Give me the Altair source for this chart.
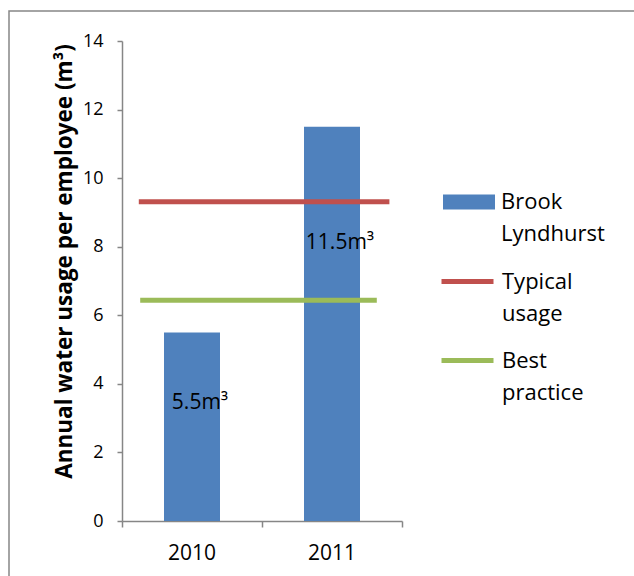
import altair as alt
import pandas as pd

# ---- data ----
years = ["2010", "2011"]
usage = [5.5, 11.5]
bar_labels = ["5.5m³", "11.5m³"]
label_level = [3.45, 8.1]          # where the value labels sit (data units)
bar_series = "Brook Lyndhurst"

ref_names = ["Typical usage", "Best practice"]
ref_values = [9.31, 6.44]
ref_start = [0.12, 0.13]           # along the category axis (0..2)
ref_end = [1.91, 1.82]

y_ticks = [0, 2, 4, 6, 8, 10, 12, 14]

BLUE = "#4F81BD"
RED = "#C0504D"
GREEN = "#9BBB59"
GRAY = "#868686"
FONT = "Open Sans"

bars_df = pd.DataFrame({"year": years, "usage": usage, "label": bar_labels,
                        "label_y": label_level, "series": [bar_series] * len(years)})
ref_df = pd.DataFrame({"series": ref_names, "value": ref_values,
                       "start": ref_start, "end": ref_end})

Y_TITLE = "Annual water usage per employee (m³)"
y_scale = alt.Scale(domain=[0, 14], nice=False)
y_axis = alt.Axis(title=Y_TITLE, values=y_ticks, grid=False, domainColor=GRAY,
                  domainWidth=1.5, tickColor=GRAY, tickWidth=1.5, tickSize=5,
                  labelFontSize=18, labelPadding=14, labelColor="black",
                  titleFontSize=22.5, titleFontWeight="bold", titleColor="black",
                  titleX=-58, titleY=220, titleAngle=270, titleBaseline="middle",
                  titleAlign="center")

band_scale = alt.Scale(paddingInner=0, paddingOuter=0)
x_band = alt.X("year:N", scale=band_scale,
               axis=alt.Axis(title=None, ticks=False, domain=False, labelAngle=0,
                             labelFontSize=21, labelPadding=21, labelColor="black"))

RECT_PATH = "M-1,-0.29H1V0.29H-1Z"
LINE_PATH = "M-1,0H1"

bars = alt.Chart(bars_df).mark_bar(width=alt.RelativeBandSize(0.4)).encode(
    x=x_band,
    y=alt.Y("usage:Q", scale=y_scale, axis=y_axis),
    color=alt.Color("series:N", scale=alt.Scale(domain=[bar_series], range=[BLUE]),
                    legend=alt.Legend(orient="none", legendX=321, legendY=135, title=None,
                                      symbolType=RECT_PATH, symbolSize=2704,
                                      symbolStrokeWidth=0, labelExpr="split(datum.label, ' ')",
                                      labelFontSize=22, labelOffset=6, labelLimit=200,
                                      padding=0, labelColor="black")),
)

texts = alt.Chart(bars_df).mark_text(align="center", baseline="middle", dx=8,
                                     fontSize=21, color="black").encode(
    x=alt.X("year:N", scale=band_scale, axis=None),
    y=alt.Y("label_y:Q", scale=y_scale, axis=y_axis),
    text="label:N",
)

rules = alt.Chart(ref_df).mark_rule(strokeWidth=5).encode(
    x=alt.X("start:Q", scale=alt.Scale(domain=[0, 2], nice=False, zero=False),
            axis=alt.Axis(values=[0, 1, 2], labels=False, title=None, grid=False,
                          orient="bottom", tickSize=6, tickColor=GRAY, tickWidth=1.5,
                          domainColor=GRAY, domainWidth=1.5)),
    x2="end:Q",
    y=alt.Y("value:Q", scale=y_scale, axis=y_axis),
    stroke=alt.Stroke("series:N", scale=alt.Scale(domain=ref_names, range=[RED, GREEN]),
                      legend=alt.Legend(orient="none", legendX=317, legendY=212, title=None,
                                        symbolType=LINE_PATH, symbolSize=2704,
                                        symbolStrokeWidth=5, symbolFillColor="transparent",
                                        labelExpr="split(datum.label, ' ')",
                                        labelFontSize=22, labelOffset=6, labelLimit=200,
                                        rowPadding=7, padding=0, labelColor="black")),
)

frame = alt.Chart(pd.DataFrame({"k": [0]})).mark_rect(
    fill="transparent", stroke=GRAY, strokeWidth=1.5).encode(
    x=alt.value(-113), x2=alt.value(540), y=alt.value(-30), y2=alt.value(560))

chart = alt.layer(frame, bars, texts, rules).resolve_scale(
    x="independent", color="independent", stroke="independent"
).properties(
    width=280, height=480,
    autosize=alt.AutoSizeParams(type="none"),
    padding={"left": 122, "top": 41, "right": 232, "bottom": 55},
).configure(font=FONT, style={"guide-label": {"lineHeight": 32}}).configure_view(stroke=None)

chart.save("out.html", embed_options={"renderer": "svg", "actions": False})
